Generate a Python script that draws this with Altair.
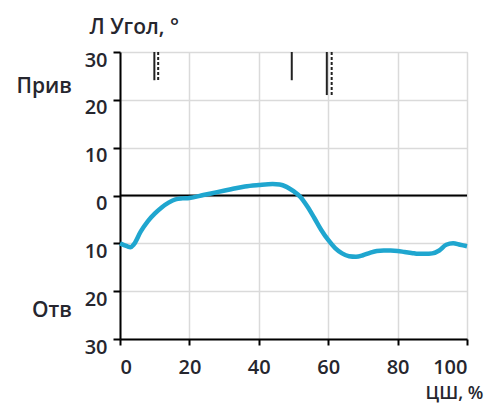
import altair as alt
import pandas as pd

# Curve: gait cycle (%) vs angle (deg)
cycle = [0, 2, 3, 4, 6, 8, 10, 12, 14, 16, 18, 20, 24, 28, 32, 36, 40, 44, 46, 48,
         50, 52, 54, 56, 58, 60, 62, 64, 66, 68, 70, 72, 74, 76, 78, 80, 82, 84,
         86, 88, 90, 92, 94, 96, 98, 100]
angle = [-10.0, -10.6, -10.8, -10.2, -7.5, -5.4, -3.8, -2.5, -1.5, -0.8, -0.6, -0.5,
         0.1, 0.7, 1.3, 1.9, 2.2, 2.4, 2.3, 1.8, 0.9, -0.3, -2.3, -4.7, -7.2, -9.3,
         -11.0, -12.1, -12.7, -12.8, -12.5, -12.0, -11.6, -11.5, -11.5, -11.6, -11.8,
         -12.0, -12.2, -12.2, -12.1, -11.5, -10.3, -10.0, -10.3, -10.6]

# Event markers at the top
ev_x = [9.9, 11.0, 49.5, 59.6, 61.0]
ev_y2 = [24.1, 24.1, 24.1, 21.0, 21.0]
ev_style = ["solid", "dashed", "solid", "solid", "dashed"]

y_ticks = [-30, -20, -10, 0, 10, 20, 30]
x_ticks = [0, 20, 40, 60, 80, 100]

side_text = ["Прив", "Отв"]
side_y = [22.7, -24.2]

curve = pd.DataFrame({"x": cycle, "y": angle})
events = pd.DataFrame({"x": ev_x, "y": [30] * len(ev_x), "y2": ev_y2, "style": ev_style})
sides = pd.DataFrame({"t": side_text, "y": side_y})

FONT = "Open Sans"
TXT = "#26262e"

xs = alt.Scale(domain=[0, 100], nice=False)
ys = alt.Scale(domain=[-30, 30], nice=False)

line = alt.Chart(curve).mark_line(color="#1fa6cf", strokeWidth=4.5, interpolate="monotone").encode(
    x=alt.X("x:Q", scale=xs, axis=alt.Axis(
        values=x_ticks, title="ЦШ, %", grid=True, gridColor="#dadada", gridWidth=1.5,
        domainColor="black", domainWidth=2, tickColor="black", tickWidth=2, tickSize=6,
        labelFont=FONT, labelFontSize=20, labelFontWeight=600, labelColor=TXT, labelPadding=12,
        titleFont=FONT, titleFontSize=18, titleFontWeight=600, titleColor=TXT,
        titleAlign="left", titleBaseline="middle", titleX=305, titleY=54)),
    y=alt.Y("y:Q", scale=ys, axis=alt.Axis(
        values=y_ticks, labelExpr="abs(datum.value)", title="Л Угол, °",
        grid=True, gridColor="#dadada", gridWidth=1.5,
        domainColor="black", domainWidth=2, tickColor="black", tickWidth=2, tickSize=7,
        labelFont=FONT, labelFontSize=20, labelFontWeight=600, labelColor=TXT,
        labelPadding=6, labelBaseline="middle", labelOffset=8,
        titleFont=FONT, titleFontSize=21, titleFontWeight=600, titleColor=TXT,
        titleAngle=0, titleAlign="left", titleBaseline="middle", titleX=-31, titleY=-25)),
)

zero = alt.Chart(pd.DataFrame({"y": [0]})).mark_rule(color="black", strokeWidth=2).encode(
    y=alt.Y("y:Q", scale=ys))

ev_solid = alt.Chart(events).transform_filter("datum.style == 'solid'").mark_rule(
    color="#222222", strokeWidth=2).encode(
    x=alt.X("x:Q", scale=xs), y=alt.Y("y:Q", scale=ys), y2="y2:Q")
ev_dash = alt.Chart(events).transform_filter("datum.style == 'dashed'").mark_rule(
    color="#222222", strokeWidth=2, strokeDash=[3, 2]).encode(
    x=alt.X("x:Q", scale=xs), y=alt.Y("y:Q", scale=ys), y2="y2:Q")

side = alt.Chart(sides).mark_text(
    align="right", baseline="middle", font=FONT, fontSize=21, fontWeight=600, color=TXT
).encode(x=alt.value(-48), y=alt.Y("y:Q", scale=ys), text="t:N")

chart = alt.layer(zero, line, ev_solid, ev_dash, side).properties(
    width=347, height=287,
    autosize=alt.AutoSizeParams(type="none"),
    padding={"left": 112, "top": 44, "right": 18, "bottom": 66},
).configure_view(stroke="black", strokeWidth=2).configure(background="white")

chart.save("out.html", embed_options={"renderer": "svg", "actions": False})
